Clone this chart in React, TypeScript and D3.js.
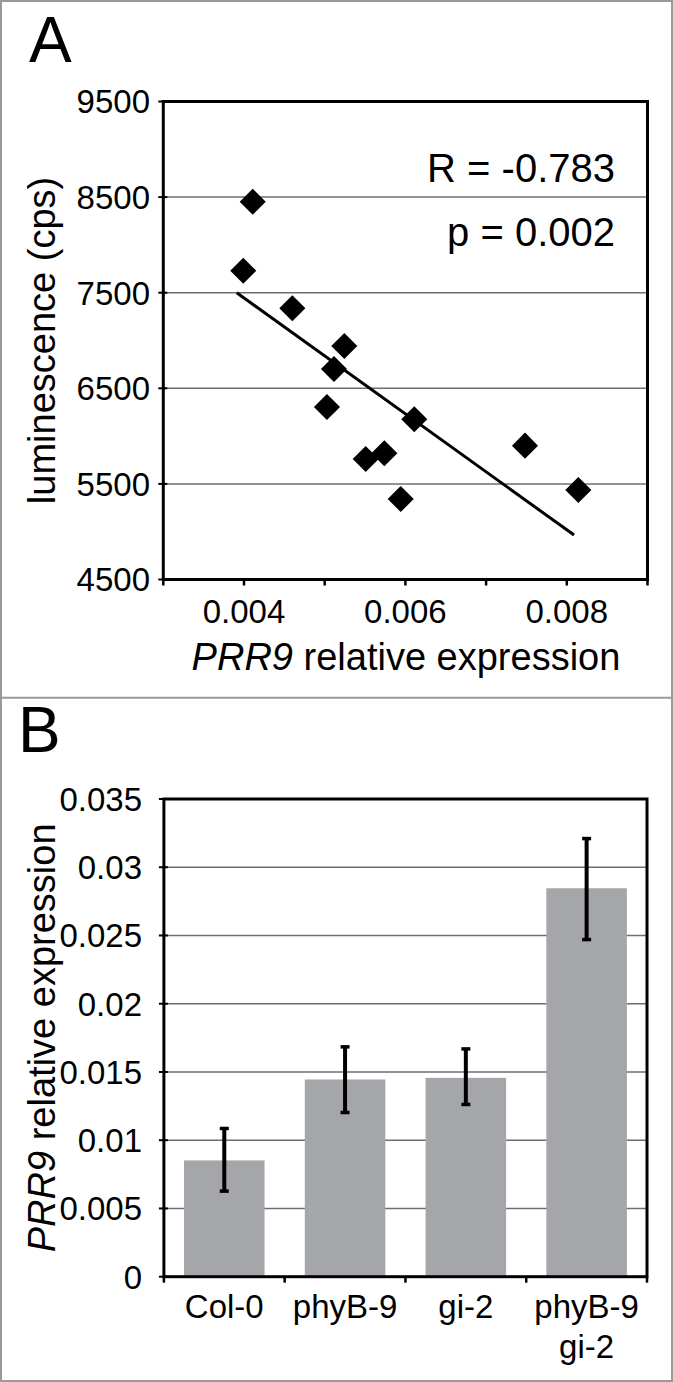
import React from "react";
import * as d3 from "d3";

// ---------- Panel A data ----------
const scatterX = [0.004108, 0.003991, 0.004599, 0.005243, 0.005115, 0.005028, 0.00611, 0.005508, 0.005739, 0.005942, 0.007482, 0.008143];
const scatterY = [8452, 7730, 7337, 6942, 6702, 6304, 6176, 5760, 5820, 5342, 5900, 5436];
const trendX = [0.00391, 0.00809];
const trendY = [7500, 4965];
const yTicksA = [4500, 5500, 6500, 7500, 8500, 9500];
const xTicksA = [0.003, 0.004, 0.005, 0.006, 0.007, 0.008, 0.009];
const xLabelsA = [0.004, 0.006, 0.008];
const statLines = ["R = -0.783", "p = 0.002"];

// ---------- Panel B data ----------
const categories = ["Col-0", "phyB-9", "gi-2", "phyB-9 gi-2"];
const categoryLines = [["Col-0"], ["phyB-9"], ["gi-2"], ["phyB-9", "gi-2"]];
const means = [0.00852, 0.01445, 0.01457, 0.02846];
const errLow = [0.00627, 0.01203, 0.01262, 0.0247];
const errHigh = [0.01086, 0.01684, 0.01669, 0.0321];
const yTicksB = [0, 0.005, 0.01, 0.015, 0.02, 0.025, 0.03, 0.035];
const yTickLabelsB = ["0", "0.005", "0.01", "0.015", "0.02", "0.025", "0.03", "0.035"];

const FONT = "'Liberation Sans', Arial, Helvetica, sans-serif";

export default function App() {
  const W = 673, H = 1382;

  // Panel A scales
  const xA = d3.scaleLinear().domain([0.003, 0.009]).range([163.3, 647.5]);
  const yA = d3.scaleLinear().domain([4500, 9500]).range([579.5, 101.5]);
  const diamond = d3.symbol().type(d3.symbolSquare).size(340)();
  const trendLine = d3.line<number>()
    .x((_, i) => xA(trendX[i]))
    .y((_, i) => yA(trendY[i]))(trendX.map((_, i) => i));

  // Panel B scales
  const xB = d3.scaleBand<string>().domain(categories).range([163.9, 647]).paddingInner(1 / 3).paddingOuter(1 / 6);
  const yB = d3.scaleLinear().domain([0, 0.035]).range([1276.7, 799]);
  const stepB = (647 - 163.9) / categories.length;

  return (
    <svg width={W} height={H} style={{ position: "absolute", left: 0, top: 0, background: "#fff" }} fontFamily={FONT}>
      <rect x={0} y={0} width={W} height={H} fill="#fff" />

      {/* ================= Panel A ================= */}
      <text x={29} y={62} fontSize={64} fill="#000">A</text>

      {/* gridlines */}
      {yTicksA.slice(1, -1).map((t) => (
        <line key={"ga" + t} x1={xA(0.003)} x2={xA(0.009)} y1={yA(t)} y2={yA(t)} stroke="#6e6e6e" strokeWidth={1.5} />
      ))}

      {/* trendline */}
      <path d={trendLine || ""} fill="none" stroke="#000" strokeWidth={3} />

      {/* points */}
      {scatterX.map((x, i) => (
        <path key={"pt" + i} d={diamond || ""} transform={`translate(${xA(x)},${yA(scatterY[i])}) rotate(45)`} fill="#000" />
      ))}

      {/* plot border */}
      <rect x={xA(0.003)} y={yA(9500)} width={xA(0.009) - xA(0.003)} height={yA(4500) - yA(9500)} fill="none" stroke="#000" strokeWidth={3} />

      {/* y ticks + labels */}
      {yTicksA.map((t) => (
        <g key={"ya" + t}>
          <line x1={xA(0.003) - 5} x2={xA(0.003) + 4} y1={yA(t)} y2={yA(t)} stroke="#000" strokeWidth={2} />
          <text x={150} y={yA(t)} dy="0.36em" textAnchor="end" fontSize={33} fill="#000">{t}</text>
        </g>
      ))}

      {/* x ticks */}
      {xTicksA.map((t) => (
        <line key={"xa" + t} x1={xA(t)} x2={xA(t)} y1={yA(4500)} y2={yA(4500) + 6} stroke="#000" strokeWidth={2.5} />
      ))}
      {xLabelsA.map((t) => (
        <text key={"xl" + t} x={xA(t)} y={623} textAnchor="middle" fontSize={33} fill="#000">{t.toFixed(3)}</text>
      ))}

      {/* stats text */}
      {statLines.map((s, i) => (
        <text key={"st" + i} x={615} y={182 + i * 64} textAnchor="end" fontSize={40} fill="#000">{s}</text>
      ))}

      {/* axis titles */}
      <text x={406} y={670} textAnchor="middle" fontSize={38} fill="#000">
        <tspan fontStyle="italic">PRR9</tspan> relative expression
      </text>
      <text transform={`translate(55,${(yA(4500) + yA(9500)) / 2}) rotate(-90)`} textAnchor="middle" fontSize={38} fill="#000">
        luminescence (cps)
      </text>

      {/* ================= Panel B ================= */}
      <text x={18} y={752} fontSize={64} fill="#000">B</text>

      {yTicksB.slice(1, -1).map((t) => (
        <line key={"gb" + t} x1={163.9} x2={647} y1={yB(t)} y2={yB(t)} stroke="#6e6e6e" strokeWidth={1.5} />
      ))}

      {categories.map((c, i) => (
        <rect key={"bar" + c} x={xB(c)} y={yB(means[i])} width={xB.bandwidth()} height={yB(0) - yB(means[i])} fill="#a5a6a9" />
      ))}

      {categories.map((c, i) => {
        const cx = (xB(c) || 0) + xB.bandwidth() / 2;
        return (
          <g key={"err" + c}>
            <line x1={cx} x2={cx} y1={yB(errHigh[i])} y2={yB(errLow[i])} stroke="#000" strokeWidth={4} />
            <line x1={cx - 4.5} x2={cx + 4.5} y1={yB(errHigh[i])} y2={yB(errHigh[i])} stroke="#000" strokeWidth={3.5} />
            <line x1={cx - 4.5} x2={cx + 4.5} y1={yB(errLow[i])} y2={yB(errLow[i])} stroke="#000" strokeWidth={3.5} />
          </g>
        );
      })}

      <rect x={163.9} y={yB(0.035)} width={647 - 163.9} height={yB(0) - yB(0.035)} fill="none" stroke="#000" strokeWidth={3} />

      {yTicksB.map((t, i) => (
        <g key={"yb" + t}>
          <line x1={163.9 - 5} x2={163.9 + 4} y1={yB(t)} y2={yB(t)} stroke="#000" strokeWidth={2} />
          <text x={142} y={yB(t)} dy="0.36em" textAnchor="end" fontSize={33} fill="#000">{yTickLabelsB[i]}</text>
        </g>
      ))}

      {d3.range(categories.length + 1).map((i) => (
        <line key={"xtb" + i} x1={163.9 + i * stepB} x2={163.9 + i * stepB} y1={yB(0)} y2={yB(0) + 6} stroke="#000" strokeWidth={2.5} />
      ))}

      {categories.map((c, i) => (
        <text key={"xlb" + c} x={(xB(c) || 0) + xB.bandwidth() / 2} y={1318} textAnchor="middle" fontSize={33} fill="#000">
          {categoryLines[i].map((ln, j) => (
            <tspan key={j} x={(xB(c) || 0) + xB.bandwidth() / 2} y={1318 + j * 40}>{ln}</tspan>
          ))}
        </text>
      ))}

      <text transform={`translate(55,${(yB(0) + yB(0.035)) / 2}) rotate(-90)`} textAnchor="middle" fontSize={38} fill="#000">
        <tspan fontStyle="italic">PRR9</tspan> relative expression
      </text>

      {/* outer frame & divider */}
      <rect x={1} y={1} width={W - 2} height={H - 2} fill="none" stroke="#9a9a9a" strokeWidth={2} />
      <line x1={0} x2={W} y1={697.7} y2={697.7} stroke="#9a9a9a" strokeWidth={2} />
    </svg>
  );
}
